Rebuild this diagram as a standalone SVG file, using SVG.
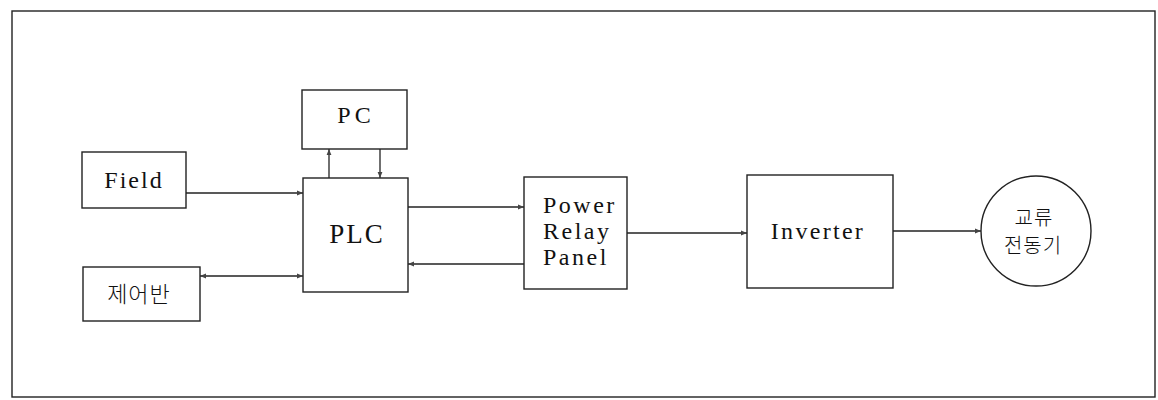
<svg xmlns="http://www.w3.org/2000/svg" width="1158" height="400" viewBox="0 0 1158 400">
<defs>
<style>
.box{fill:#fff;stroke:#222;stroke-width:1.4}
.ln{fill:none;stroke:#222;stroke-width:1.3}
.t{font-family:"Liberation Serif","Times New Roman",serif;font-size:24px;fill:#111;letter-spacing:2px}
.k{font-family:"Noto Sans CJK KR",sans-serif;font-size:20px;fill:#111;font-weight:300;letter-spacing:1px}
</style>
<marker id="ah" viewBox="0 0 10 10" refX="10" refY="5" markerWidth="8" markerHeight="6" markerUnits="userSpaceOnUse" orient="auto-start-reverse">
<path d="M0,1 L10,5 L0,9 z" fill="#444"/>
</marker>
</defs>
<rect x="0" y="0" width="1158" height="400" fill="#fff"/>
<rect x="12" y="11" width="1143" height="386" fill="none" stroke="#222" stroke-width="1.4"/>
<g id="pc"><rect class="box" x="302" y="90" width="105" height="59"/><text class="t" x="356" y="123" text-anchor="middle" style="letter-spacing:4px">PC</text></g>
<g id="field"><rect class="box" x="82" y="152" width="104" height="56"/><text class="t" x="134" y="188" text-anchor="middle">Field</text></g>
<g id="plc"><rect class="box" x="303" y="178" width="105" height="114"/><text class="t" x="357" y="243" text-anchor="middle" style="font-size:27px">PLC</text></g>
<g id="panel"><rect class="box" x="83" y="267" width="117" height="54"/><text class="k" x="139" y="302" text-anchor="middle" style="font-size:22px">제어반</text></g>
<g id="prp"><rect class="box" x="524" y="177" width="103" height="112"/>
<text class="t" x="543" y="213" style="letter-spacing:2.5px">Power</text><text class="t" x="543" y="239" style="letter-spacing:2.5px">Relay</text><text class="t" x="543" y="265" style="letter-spacing:2.5px">Panel</text></g>
<g id="inverter"><rect class="box" x="747" y="175" width="146" height="113"/><text class="t" x="818" y="239" text-anchor="middle" style="letter-spacing:2.3px">Inverter</text></g>
<g id="motor"><circle cx="1036" cy="231" r="55" fill="#fff" stroke="#222" stroke-width="1.4"/>
<text class="k" x="1034" y="225" text-anchor="middle">교류</text><text class="k" x="1033" y="253" text-anchor="middle">전동기</text></g>
<g id="connectors">
<line class="ln" x1="329" y1="178" x2="329" y2="149" marker-end="url(#ah)"/>
<line class="ln" x1="380" y1="149" x2="380" y2="178" marker-end="url(#ah)"/>
<line class="ln" x1="186" y1="193" x2="303" y2="193" marker-end="url(#ah)"/>
<line class="ln" x1="200" y1="276" x2="303" y2="276" marker-start="url(#ah)" marker-end="url(#ah)"/>
<line class="ln" x1="408" y1="207" x2="524" y2="207" marker-end="url(#ah)"/>
<line class="ln" x1="524" y1="264" x2="408" y2="264" marker-end="url(#ah)"/>
<line class="ln" x1="627" y1="233" x2="747" y2="233" marker-end="url(#ah)"/>
<line class="ln" x1="893" y1="231" x2="981" y2="231" marker-end="url(#ah)"/>
</g>
</svg>
